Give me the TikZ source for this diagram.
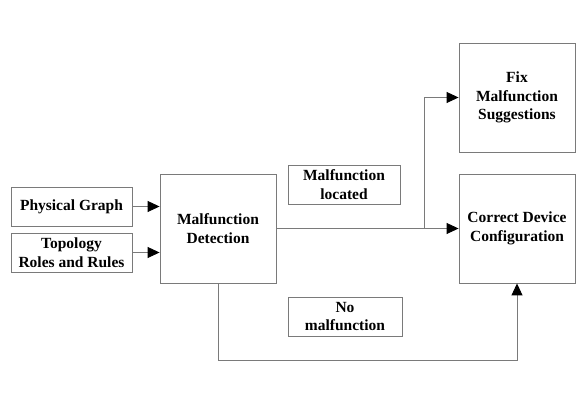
\documentclass[tikz,border=0pt]{standalone}
\usepackage{fontspec}
\setmainfont{Liberation Serif}
\usetikzlibrary{arrows.meta}
\definecolor{linegray}{HTML}{7A7A7A}
\tikzset{
  box/.style={draw=linegray, line width=0.9pt, rectangle, align=center, font=\fontsize{15.5}{18.5}\selectfont\bfseries, inner sep=2pt},
  conn/.style={draw=linegray, line width=0.9pt},
  arr/.style={conn, -{Triangle[length=12pt,width=11pt,color=black]}}
}
\begin{document}
\begin{tikzpicture}[x=1pt,y=1pt]
\useasboundingbox (0,0) rectangle (581,411);
\node[box, minimum width=121pt, minimum height=39pt] (pg) at (71.5,204.5) {Physical Graph};
\node[box, minimum width=121pt, minimum height=39pt] (topo) at (71.5,158.5) {Topology\\Roles and Rules};
\node[box, minimum width=116pt, minimum height=109pt] (det) at (218,182.5) {Malfunction\\Detection};
\node[box, minimum width=112pt, minimum height=39pt] (loc) at (344,226.5) {Malfunction\\located};
\node[box, minimum width=114pt, minimum height=39pt] (nom) at (345,94.5) {No\\malfunction};
\node[box, minimum width=116pt, minimum height=109pt] (cor) at (517,182.5) {Correct Device\\Configuration};
\node[box, minimum width=116pt, minimum height=109pt] (fix) at (517,313.5) {Fix\\Malfunction\\Suggestions};
\coordinate (br) at (424,182.5);
\coordinate (bl) at (218,51);
\draw[arr] (pg.east) -- (pg.east -| det.west);
\draw[arr] (topo.east) -- (topo.east -| det.west);
\draw[arr] (det.east) -- (cor.west);
\draw[arr] (br) |- (fix.west);
\draw[arr] (det.south) -- (bl) -| (cor.south);
\end{tikzpicture}
\end{document}
